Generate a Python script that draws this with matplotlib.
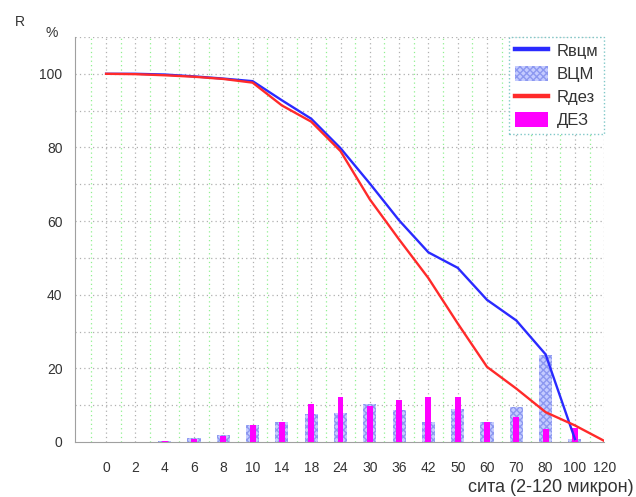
import numpy as np
import matplotlib
matplotlib.use("Agg")
import matplotlib.pyplot as plt

plt.rcParams['font.family'] = ['Liberation Sans', 'DejaVu Sans']
plt.rcParams['hatch.linewidth'] = 1.0

# sieve sizes (microns) and data
sieves = ['0', '2', '4', '6', '8', '10', '14', '18', '24', '30', '36', '42',
          '50', '60', '70', '80', '100', '120']
r_vcm = [100, 100, 99.8, 99.3, 98.7, 98.0, 92.8, 87.8, 79.8, 70.2, 60.2,
         51.5, 47.3, 38.6, 33.0, 23.8, 0.8]
r_dez = [100, 99.9, 99.6, 99.2, 98.6, 97.6, 91.4, 87.0, 79.0, 65.9, 55.0,
         44.5, 32.2, 20.4, 14.5, 8.1, 4.5, 0.3]
vcm = [0, 0, 0.3, 1.0, 1.8, 4.7, 5.3, 7.7, 8.0, 10.4, 8.6, 5.3, 9.0, 5.3,
       9.4, 23.5, 0.8, 0]
dez = [0, 0, 0.3, 0.9, 1.6, 4.5, 5.3, 10.4, 12.1, 9.9, 11.5, 12.1, 12.1,
       5.3, 6.9, 3.5, 3.8, 0]

x = np.arange(len(sieves))

fig = plt.figure(figsize=(6.36, 4.97), dpi=100)
ax = fig.add_axes([0.118, 0.1107, 0.832, 0.8149])

# grid: gray at categories / every 10 %, green in between
for xi in x:
    ax.axvline(xi, color='#b0b0b0', ls=(0, (1, 2.5)), lw=0.9, zorder=0)
for xi in x[:-1] + 0.5:
    ax.axvline(xi, color='#90f090', ls=(0, (1, 2.5)), lw=0.9, zorder=0)
ax.axvline(-0.5, color='#90f090', ls=(0, (1, 2.5)), lw=0.9, zorder=0)
for yi in range(10, 111, 10):
    ax.axhline(yi, color='#b0b0b0', ls=(0, (1, 2.5)), lw=0.9, zorder=0)

b1 = ax.bar(x, vcm, width=0.45, color='#c4cbff', hatch='xxxxx',
            edgecolor='#8c98f0', linewidth=0, zorder=2, label='ВЦМ')
b2 = ax.bar(x, dez, width=0.2, color='#ff00ff', linewidth=0, zorder=3,
            label='ДЕЗ')
l1, = ax.plot(x[:len(r_vcm)], r_vcm, color='#2a2aff', lw=1.7, zorder=4,
              label='Rвцм')
l2, = ax.plot(x[:len(r_dez)], r_dez, color='#ff2a2a', lw=1.7, zorder=4,
              label='Rдез')

ax.set_xlim(-1.06, 17)
ax.set_ylim(0, 110)
ax.set_xticks(x)
ax.set_xticklabels(sieves)
ax.set_yticks(range(0, 101, 20))
ax.tick_params(axis='both', length=0, labelsize=10, colors='#333333')
ax.tick_params(axis='x', pad=14)
ax.tick_params(axis='y', pad=9)

for s in ['top', 'right']:
    ax.spines[s].set_visible(False)
ax.spines['left'].set_color('#a0a0a0')
ax.spines['bottom'].set_color('#a0a0a0')

fig.text(15 / 636, 1 - 22 / 497, 'R', fontsize=10, color='#333333',
         ha='left', va='center')
fig.text(52 / 636, 1 - 33 / 497, '%', fontsize=10, color='#333333',
         ha='center', va='center')
fig.text(634 / 636, 1 - 488 / 497, 'сита (2-120 микрон)', fontsize=13,
         color='#333333', ha='right', va='center')

leg = ax.legend([l1, b1, l2, b2], ['Rвцм', 'ВЦМ', 'Rдез', 'ДЕЗ'],
                loc='upper right', bbox_to_anchor=(1.0, 1.0),
                borderaxespad=0, fontsize=12, labelspacing=0.42,
                handlelength=2.0, handleheight=1.0, handletextpad=0.5,
                fancybox=False, framealpha=1, borderpad=0.35)
leg.get_frame().set_edgecolor('#80c8c8')
leg.get_frame().set_linestyle(':')
leg.get_lines()[0].set_linewidth(3.2)
leg.get_lines()[1].set_linewidth(3.2)
for t in leg.get_texts():
    t.set_color('#333333')

fig.savefig('out.png', dpi=100)
